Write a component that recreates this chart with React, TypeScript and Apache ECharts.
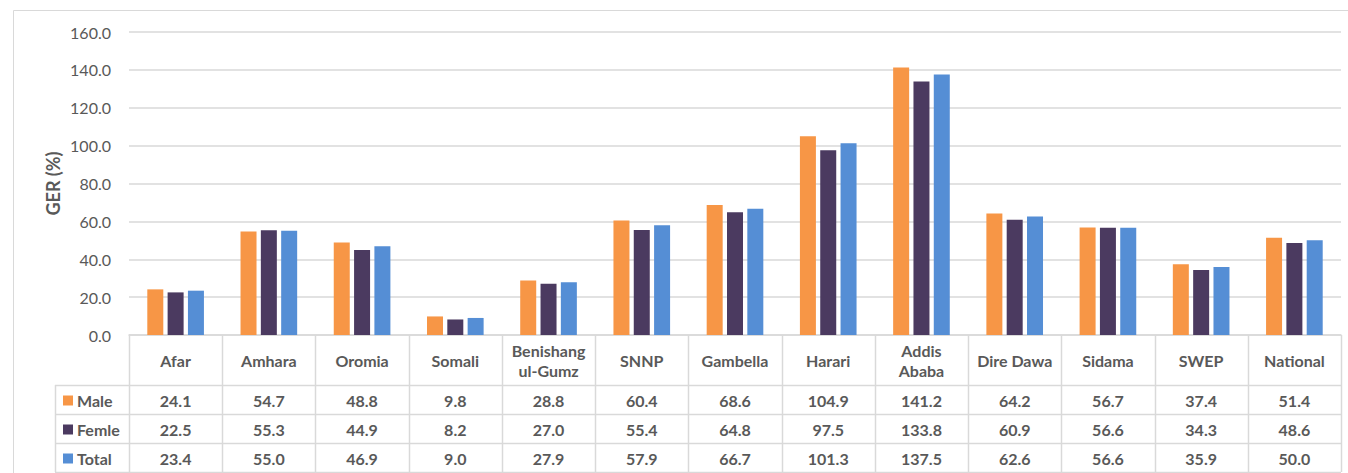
import React, { useEffect, useRef } from "react";
import * as echarts from "echarts";

const regions = [
  "Afar", "Amhara", "Oromia", "Somali", "Benishang\nul-Gumz", "SNNP", "Gambella",
  "Harari", "Addis\nAbaba", "Dire Dawa", "Sidama", "SWEP", "National",
];
const male = [24.1, 54.7, 48.8, 9.8, 28.8, 60.4, 68.6, 104.9, 141.2, 64.2, 56.7, 37.4, 51.4];
const female = [22.5, 55.3, 44.9, 8.2, 27.0, 55.4, 64.8, 97.5, 133.8, 60.9, 56.6, 34.3, 48.6];
const total = [23.4, 55.0, 46.9, 9.0, 27.9, 57.9, 66.7, 101.3, 137.5, 62.6, 56.6, 35.9, 50.0];
const seriesNames = ["Male", "Femle", "Total"];
const seriesColors = ["#F79646", "#4B3A60", "#558ED5"];
const yTicks = { min: 0, max: 160, step: 20 };

const FONT = "Lato, 'Open Sans', sans-serif";
const TEXT = "#595959";
const LINE = "#D9D9D9";

// plot / table geometry
const PLOT_L = 129;
const PLOT_R = 1341;
const PLOT_T = 32;
const PLOT_B = 335;
const HEAD_B = 385;
const ROW_H = 29;
const LEG_L = 55;

export default function App() {
  const ref = useRef<HTMLDivElement>(null);

  useEffect(() => {
    const chart = echarts.init(ref.current!, null, { renderer: "svg" });
    const seriesData = [male, female, total];
    const colW = (PLOT_R - PLOT_L) / regions.length;
    const tableB = HEAD_B + ROW_H * seriesData.length;

    const graphics: any[] = [];
    // outer chart frame
    graphics.push({
      type: "rect",
      shape: { x: 13.5, y: 10.5, width: 1345, height: 475 },
      style: { fill: "none", stroke: LINE, lineWidth: 1 },
      silent: true,
    });
    // horizontal table rules
    for (let r = 0; r <= seriesData.length; r++) {
      const y = HEAD_B + r * ROW_H + 0.5;
      graphics.push({
        type: "line",
        shape: { x1: LEG_L, y1: y, x2: PLOT_R, y2: y },
        style: { stroke: LINE, lineWidth: 1.5 },
        silent: true,
      });
    }
    // vertical rules
    graphics.push({
      type: "line",
      shape: { x1: LEG_L + 0.5, y1: HEAD_B, x2: LEG_L + 0.5, y2: tableB },
      style: { stroke: LINE, lineWidth: 1.5 },
      silent: true,
    });
    for (let c = 0; c <= regions.length; c++) {
      const x = Math.round(PLOT_L + c * colW) + 0.5;
      graphics.push({
        type: "line",
        shape: { x1: x, y1: PLOT_B, x2: x, y2: tableB },
        style: { stroke: LINE, lineWidth: 1.5 },
        silent: true,
      });
    }
    // legend keys and values
    seriesData.forEach((vals, r) => {
      const cy = HEAD_B + r * ROW_H + ROW_H / 2 + 1;
      graphics.push({
        type: "rect",
        shape: { x: 63, y: cy - 5, width: 10, height: 10 },
        style: { fill: seriesColors[r] },
        silent: true,
      });
      graphics.push({
        type: "text",
        x: 77,
        y: cy,
        style: {
          text: seriesNames[r],
          fill: TEXT,
          font: `bold 16px ${FONT}`,
          textAlign: "left",
          textVerticalAlign: "middle",
        },
        silent: true,
      });
      vals.forEach((v, c) => {
        graphics.push({
          type: "text",
          x: PLOT_L + (c + 0.5) * colW,
          y: cy,
          style: {
            text: v.toFixed(1),
            fill: TEXT,
            font: `bold 16px ${FONT}`,
            textAlign: "center",
            textVerticalAlign: "middle",
          },
          silent: true,
        });
      });
    });
    // y-axis title, reading bottom to top
    graphics.push({
      type: "text",
      x: 53,
      y: (PLOT_T + PLOT_B) / 2,
      rotation: Math.PI / 2,
      originX: 0,
      originY: 0,
      style: {
        text: "GER (%)",
        fill: TEXT,
        font: `bold 18px ${FONT}`,
        textAlign: "center",
        textVerticalAlign: "middle",
      },
      silent: true,
    });

    chart.setOption({
      animation: false,
      grid: {
        left: PLOT_L,
        top: PLOT_T,
        width: PLOT_R - PLOT_L,
        height: PLOT_B - PLOT_T,
        containLabel: false,
      },
      xAxis: {
        type: "category",
        data: regions,
        axisLine: { show: true, lineStyle: { color: LINE, width: 1.5 } },
        axisTick: { show: false },
        axisLabel: {
          interval: 0,
          margin: 25,
          verticalAlign: "middle",
          lineHeight: 20,
          color: TEXT,
          fontFamily: FONT,
          fontWeight: "bold",
          fontSize: 16,
        },
      },
      yAxis: {
        type: "value",
        min: yTicks.min,
        max: yTicks.max,
        interval: yTicks.step,
        axisLine: { show: false },
        axisTick: { show: false },
        splitLine: { lineStyle: { color: LINE, width: 1.5 } },
        axisLabel: {
          margin: 18,
          color: TEXT,
          fontFamily: FONT,
          fontSize: 16,
          formatter: (v: number) => v.toFixed(1),
        },
      },
      series: seriesData.map((d, i) => ({
        name: seriesNames[i],
        type: "bar",
        data: d,
        barWidth: 16,
        barGap: "27%",
        itemStyle: { color: seriesColors[i] },
      })),
      graphic: graphics,
    });

    return () => chart.dispose();
  }, []);

  return (
    <div
      ref={ref}
      style={{ position: "fixed", left: 0, top: 0, width: 1348, height: 473, background: "#fff" }}
    />
  );
}
